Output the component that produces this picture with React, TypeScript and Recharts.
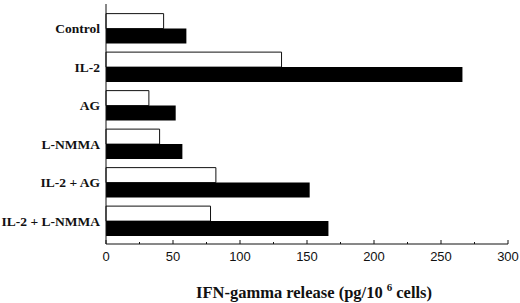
import { BarChart, Bar, XAxis, YAxis } from "recharts";

const categories = ["Control", "IL-2", "AG", "L-NMMA", "IL-2 + AG", "IL-2 + L-NMMA"];
const openValues = [43, 131, 32, 40, 82, 78];
const filledValues = [60, 266, 52, 57, 152, 166];
const xTicks = [0, 25, 50, 75, 100, 125, 150, 175, 200, 225, 250, 275, 300];

const data = categories.map((name, i) => ({
  name,
  open: openValues[i],
  filled: filledValues[i],
}));

const serif = "'Liberation Serif', 'Times New Roman', serif";
const sans = "'Liberation Sans', Arial, sans-serif";

const XTick = ({ x, y, payload }: any) => {
  const major = payload.value % 50 === 0;
  return (
    <g>
      <line x1={x} x2={x} y1={y} y2={y - (major ? 4 : 2)} stroke="#111" strokeWidth={1} />
      {major && (
        <text x={x} y={y + 17} textAnchor="middle" fontFamily={sans} fontSize={13} fill="#111">
          {payload.value}
        </text>
      )}
    </g>
  );
};

// category names on one line, no wrapping
const YTick = ({ x, y, payload }: any) => (
  <text x={x} y={y + 5} textAnchor="end" fontFamily={serif} fontWeight={700} fontSize={13.5} fill="#111">
    {payload.value}
  </text>
);

const XLabel = ({ viewBox }: any) => {
  if (!viewBox) return null;
  const cx = viewBox.x + viewBox.width / 2 + 7;
  return (
    <text x={cx} y={viewBox.y + 54} textAnchor="middle" fontFamily={serif} fontWeight={700} fontSize={16.5} fill="#111">
      IFN-gamma release (pg/10
      <tspan dx={4} dy={-7} fontSize={11}>6</tspan>
      <tspan dy={7}> cells)</tspan>
    </text>
  );
};

export default function App() {
  return (
    <div style={{ position: "absolute", left: 0, top: 0, width: 520, height: 303, background: "#fff" }}>
      <BarChart
        width={520}
        height={303}
        data={data}
        layout="vertical"
        margin={{ top: 4, right: 12, left: 0, bottom: 0 }}
        barCategoryGap="12%"
        barGap={0}
      >
        <XAxis
          type="number"
          domain={[0, 300]}
          ticks={xTicks}
          interval={0}
          height={59}
          tickSize={0}
          tickMargin={0}
          tickLine={false}
          tick={<XTick />}
          axisLine={{ stroke: "#111" }}
          label={<XLabel />}
        />
        <XAxis
          xAxisId="top"
          orientation="top"
          type="number"
          domain={[0, 300]}
          height={0}
          tick={false}
          tickLine={false}
          axisLine={{ stroke: "#111" }}
        />
        <YAxis
          type="category"
          dataKey="name"
          width={106}
          padding={{ top: 5, bottom: 4 }}
          tickSize={0}
          tickMargin={6}
          tickLine={false}
          axisLine={{ stroke: "#111" }}
          tick={<YTick />}
        />
        <YAxis
          yAxisId="right"
          orientation="right"
          type="category"
          dataKey="name"
          width={0}
          tick={false}
          tickLine={false}
          axisLine={{ stroke: "#111" }}
        />
        <Bar dataKey="open" fill="#fff" stroke="#111" strokeWidth={1} isAnimationActive={false} />
        <Bar dataKey="filled" fill="#000" isAnimationActive={false} />
      </BarChart>
    </div>
  );
}
